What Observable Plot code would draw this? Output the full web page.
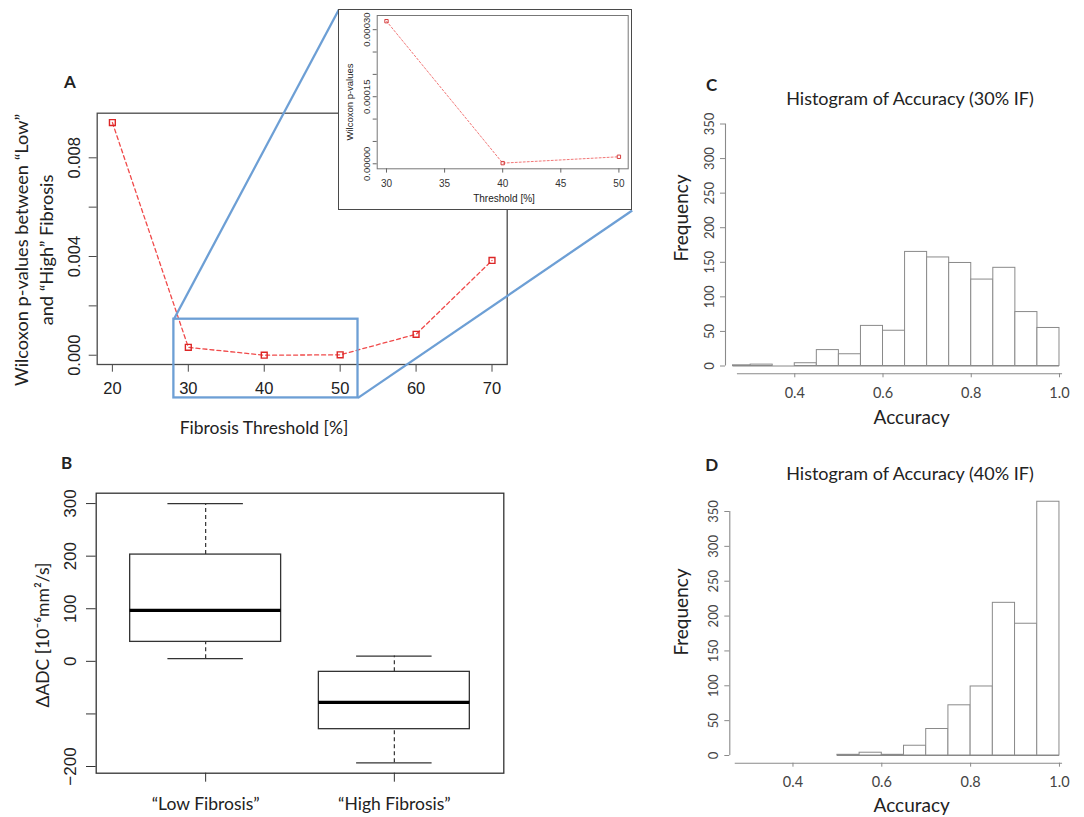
<!DOCTYPE html>
<html><head><meta charset="utf-8">
<script src="https://cdn.jsdelivr.net/npm/d3@7"></script>
<script src="https://cdn.jsdelivr.net/npm/@observablehq/plot@0.6"></script>
<style>
body{margin:0;background:#fff;}
#root{position:relative;width:1084px;height:817px;overflow:hidden;background:#fff;font-family:Lato,sans-serif;}
.lbl{position:absolute;white-space:pre;text-align:center;color:#222;}
</style></head><body><div id="root"></div>
<script>
// ---------- Panel A: Wilcoxon p-values vs fibrosis threshold ----------
const thresholds = [20, 30, 40, 50, 60, 70];
const pValues = [0.00943, 0.00032, 0.0000015, 0.000016, 0.00085, 0.00384];
const thresholdTicks = [20, 30, 40, 50, 60, 70];
const pTicks = [0, 0.002, 0.004, 0.006, 0.008];
const pTickLabels = ["0.000", "", "0.004", "", "0.008"];
const zoomWindowX = [28.1, 52.35];
const zoomWindowY = [-0.00173, 0.00146];

// ---------- Inset: zoom on 30–50 % ----------
const insetThresholds = [30, 40, 50];
const insetPValues = [0.000319, 0.0000015, 0.0000157];
const insetXTicks = [30, 35, 40, 45, 50];
const insetYTicks = [0, 0.00005, 0.0001, 0.00015, 0.0002, 0.00025, 0.0003];
const insetYLabels = ["0.00000", "", "", "0.00015", "", "", "0.00030"];

// ---------- Panel B: ΔADC boxplots ----------
const groups = ["\u201CLow Fibrosis\u201D", "\u201CHigh Fibrosis\u201D"];
const whiskerLow = [5, -193];
const quartile1 = [37, -129];
const medians = [97, -78];
const quartile3 = [203, -20];
const whiskerHigh = [300, 10];
const adcTicks = [-200, -100, 0, 100, 200, 300];
const adcTickLabels = ["\u2212200", "", "0", "100", "200", "300"];

// ---------- Panels C, D: accuracy histograms ----------
const binWidth = 0.05;
const binStarts30 = [0.25, 0.30, 0.35, 0.40, 0.45, 0.50, 0.55, 0.60, 0.65, 0.70, 0.75, 0.80, 0.85, 0.90, 0.95];
const freq30 = [1, 2, 0, 4, 23, 17, 58, 51, 165, 157, 149, 125, 142, 78, 55];
const binStarts40 = [0.50, 0.55, 0.60, 0.65, 0.70, 0.75, 0.80, 0.85, 0.90, 0.95];
const freq40 = [1, 4, 1, 14, 38, 72, 99, 219, 189, 364];
const accuracyTicks = [0.4, 0.6, 0.8, 1.0];
const freqTicks = [0, 50, 100, 150, 200, 250, 300, 350];
const accuracyDomain = [0.26, 1.01];
const accuracyAxisSpan = [0.27, 1.007];

// ======================================================================
const root = document.getElementById("root");
const SANS = "'Liberation Sans', Arial, sans-serif";
const HUM = "Lato, sans-serif";

function place(el, left, top, z = 1) {
  el.style.position = "absolute";
  el.style.left = left + "px";
  el.style.top = top + "px";
  el.style.zIndex = z;
  root.appendChild(el);
  return el;
}
function label(text, cx, cy, o = {}) {
  const d = document.createElement("div");
  d.className = "lbl";
  d.textContent = text;
  d.style.left = cx + "px";
  d.style.top = cy + "px";
  d.style.fontSize = (o.size || 17) + "px";
  d.style.fontFamily = o.family || HUM;
  d.style.fontWeight = o.weight || "normal";
  d.style.color = o.color || "#222";
  d.style.lineHeight = (o.lh || 1.2 * (o.size || 17)) + "px";
  d.style.zIndex = 5;
  d.style.transform = `translate(-50%,-50%) rotate(${o.rotate || 0}deg)`;
  root.appendChild(d);
  return d;
}
const padDomain = (vals, f = 0.04) => {
  const lo = d3.min(vals), hi = d3.max(vals), e = (hi - lo) * f;
  return [lo - e, hi + e];
};
const lookup = (ticks, labels) => d => labels[ticks.indexOf(d)] ?? "";

// ---------------- Panel A ----------------
const A = {w: 640, h: 440, mL: 96.7, mT: 112.7, mR: 133.3, mB: 76};
const aXDomain = padDomain(thresholds);
const aYDomain = padDomain(pValues);
const sx = Plot.scale({x: {domain: aXDomain, range: [A.mL, A.w - A.mR]}});
const sy = Plot.scale({y: {domain: aYDomain, range: [A.h - A.mB, A.mT]}});
const INSET = {left: 338, top: 9, w: 294, h: 201};
const links = [
  {x1: zoomWindowX[0], y1: zoomWindowY[1], x2: sx.invert(INSET.left + 0.3), y2: sy.invert(INSET.top + 0.3)},
  {x1: zoomWindowX[1], y1: zoomWindowY[0], x2: sx.invert(INSET.left + INSET.w - 0.3), y2: sy.invert(INSET.top + INSET.h)}
];
const aData = thresholds.map((t, i) => ({t, p: pValues[i]}));
const BLUE = "#6d9fd5";
const plotA = Plot.plot({
  width: A.w, height: A.h,
  marginLeft: A.mL, marginTop: A.mT, marginRight: A.mR, marginBottom: A.mB,
  x: {domain: aXDomain}, y: {domain: aYDomain},
  style: {fontFamily: SANS, fontSize: "16px", background: "transparent", overflow: "visible"},
  marks: [
    Plot.frame({stroke: "#4a4a4a", strokeWidth: 1.3}),
    Plot.axisX({ticks: thresholdTicks, tickSize: 7.7, tickPadding: 10, label: null, stroke: "#4a4a4a", fill: "#222", fontSize: 16.5}),
    Plot.axisY({ticks: pTicks, tickFormat: lookup(pTicks, pTickLabels), tickSize: 8, tickRotate: -90, tickPadding: 9, label: null, stroke: "#4a4a4a", fill: "#222", fontSize: 16.5}),
    Plot.line(aData, {x: "t", y: "p", stroke: "#f04a4a", strokeWidth: 1.3, strokeDasharray: "4,3"}),
    Plot.dot(aData, {x: "t", y: "p", symbol: "square", r: 3.3, stroke: "#dc2626", strokeWidth: 1.4, fill: "none"}),
    Plot.rect([{x1: zoomWindowX[0], x2: zoomWindowX[1], y1: zoomWindowY[0], y2: zoomWindowY[1]}],
      {x1: "x1", x2: "x2", y1: "y1", y2: "y2", fill: "none", stroke: BLUE, strokeWidth: 2.3}),
    Plot.link(links, {x1: "x1", y1: "y1", x2: "x2", y2: "y2", stroke: BLUE, strokeWidth: 2.3})
  ]
});
place(plotA, 0, 0, 1);

// ---------------- Inset ----------------
const iData = insetThresholds.map((t, i) => ({t, p: insetPValues[i]}));
const plotInset = Plot.plot({
  width: INSET.w, height: INSET.h,
  marginLeft: 38.7, marginTop: 6, marginRight: 4.3, marginBottom: 41.7,
  x: {domain: padDomain(insetThresholds)}, y: {domain: padDomain(insetPValues)},
  style: {fontFamily: SANS, fontSize: "10px", background: "#fff", outline: "1.5px solid #4a4a4a", outlineOffset: "-1.5px"},
  marks: [
    Plot.frame({stroke: "#777", strokeWidth: 1}),
    Plot.axisX({ticks: insetXTicks, tickSize: 4.3, tickPadding: 7, label: null, stroke: "#666", fill: "#333", fontSize: 10}),
    Plot.axisY({ticks: insetYTicks, tickFormat: lookup(insetYTicks, insetYLabels), tickSize: 4, tickRotate: -90, tickPadding: 3, label: null, stroke: "#666", fill: "#333", fontSize: 9.5}),
    Plot.line(iData, {x: "t", y: "p", stroke: "#f27777", strokeWidth: 1, strokeDasharray: "2,2"}),
    Plot.dot(iData, {x: "t", y: "p", symbol: "square", r: 1.9, stroke: "#d64040", strokeWidth: 1, fill: "none"})
  ]
});
place(plotInset, INSET.left, INSET.top, 3);

// ---------------- Panel B ----------------
const boxData = groups.map((g, i) => ({
  g, pos: i + 1, lo: whiskerLow[i], q1: quartile1[i], med: medians[i], q3: quartile3[i], hi: whiskerHigh[i]
}));
const bYDomain = padDomain([...whiskerLow, ...whiskerHigh]);
const bXDomain = padDomain([0.5, groups.length + 0.5]);
const plotB = Plot.plot({
  width: 520, height: 377,
  marginLeft: 95.7, marginTop: 52.7, marginRight: 16.7, marginBottom: 44.3,
  x: {domain: bXDomain}, y: {domain: bYDomain},
  style: {fontFamily: SANS, fontSize: "17px", background: "transparent"},
  marks: [
    Plot.ruleX(boxData, {x: "pos", y1: "q3", y2: "hi", stroke: "#333", strokeWidth: 1.2, strokeDasharray: "4,3"}),
    Plot.ruleX(boxData, {x: "pos", y1: "lo", y2: "q1", stroke: "#333", strokeWidth: 1.2, strokeDasharray: "4,3"}),
    Plot.ruleY(boxData, {y: "hi", x1: d => d.pos - 0.2, x2: d => d.pos + 0.2, stroke: "#333", strokeWidth: 1.3}),
    Plot.ruleY(boxData, {y: "lo", x1: d => d.pos - 0.2, x2: d => d.pos + 0.2, stroke: "#333", strokeWidth: 1.3}),
    Plot.rect(boxData, {x1: d => d.pos - 0.4, x2: d => d.pos + 0.4, y1: "q1", y2: "q3", fill: "#fff", stroke: "#333", strokeWidth: 1.3}),
    Plot.ruleY(boxData, {y: "med", x1: d => d.pos - 0.4, x2: d => d.pos + 0.4, stroke: "#000", strokeWidth: 3.2}),
    Plot.frame({stroke: "#333", strokeWidth: 1.3}),
    Plot.axisY({ticks: adcTicks, tickFormat: lookup(adcTicks, adcTickLabels), tickSize: 9.7, tickRotate: -90, tickPadding: 11, label: null, stroke: "#333", fill: "#222", fontSize: 17}),
    Plot.axisX({ticks: boxData.map(d => d.pos), tickFormat: d => groups[d - 1], tickSize: 9, tickPadding: 15, label: null, stroke: "#333", fill: "#222", fontSize: 17.5, fontFamily: HUM})
  ]
});
place(plotB, 0, 440, 1);

// ---------------- Panels C & D ----------------
function histogram(binStarts, freqs, g) {
  const data = binStarts.map((s, i) => ({x1: s, x2: s + binWidth, y: freqs[i]}));
  return Plot.plot({
    width: 424, height: g.h,
    marginLeft: g.mL, marginRight: g.mR, marginTop: g.mT, marginBottom: g.mB,
    x: {domain: accuracyDomain}, y: {domain: [0, 350]},
    style: {fontFamily: HUM, fontSize: "14px", background: "transparent", overflow: "visible"},
    marks: [
      Plot.ruleY([0], {x1: Math.max(binStarts[0], accuracyDomain[0]), x2: binStarts[binStarts.length - 1] + binWidth, stroke: "#888", strokeWidth: 1}),
      Plot.rect(data, {
        x1: d => Math.max(d.x1, accuracyDomain[0]), x2: "x2", y1: 0, y2: "y",
        fill: "#fff", stroke: "#8a8a8a", strokeWidth: 1
      }),
      Plot.ruleX([accuracyDomain[0]], {y1: 0, y2: 350, dx: g.yAxisDx, stroke: "#8a8a8a", strokeWidth: 1.1}),
      Plot.axisY({ticks: freqTicks, tickSize: 5, tickRotate: -90, tickPadding: 7, dx: g.yAxisDx, label: null, stroke: "#8a8a8a", fill: "#444", fontSize: 13}),
      Plot.ruleY([0], {x1: accuracyAxisSpan[0], x2: accuracyAxisSpan[1], dy: g.xAxisDy, stroke: "#8a8a8a", strokeWidth: 1.1}),
      Plot.axisX({ticks: accuracyTicks, tickFormat: d3.format(".1f"), tickSize: 4, tickPadding: 10, dy: g.xAxisDy, label: null, stroke: "#8a8a8a", fill: "#444", fontSize: 14.5})
    ]
  });
}
const plotC = histogram(binStarts30, freq30, {h: 330, mL: 72.5, mR: 20.6, mT: 23.5, mB: 64.5, yAxisDx: -7.5, xAxisDy: 7.8});
place(plotC, 660, 100, 1);
const plotD = histogram(binStarts40, freq40, {h: 332, mL: 70.3, mR: 20.6, mT: 26, mB: 62, yAxisDx: -1, xAxisDy: 7.7});
place(plotD, 660, 485, 1);

// ---------------- Text labels ----------------
label("A", 70, 81.7, {size: 17, weight: "bold"});
label("Wilcoxon p-values between \u201CLow\u201D\nand \u201CHigh\u201D Fibrosis", 34, 250, {size: 18.2, rotate: -90, lh: 25});
label("Fibrosis Threshold [%]", 264, 426.7, {size: 17.5});
label("Threshold [%]", 504, 199, {size: 10, family: SANS, color: "#222"});
label("Wilcoxon p-values", 350, 101.7, {size: 9.5, family: SANS, color: "#222", rotate: -90});
label("B", 66.7, 463.3, {size: 17, weight: "bold"});
label("\u0394ADC [10\u207B\u2076mm\u00B2/s]", 41.7, 635, {size: 17.5, rotate: -90});
label("C", 711.7, 85, {size: 17, weight: "bold"});
label("Histogram of Accuracy (30% IF)", 910, 99.3, {size: 18});
label("Frequency", 680.7, 218, {size: 19, rotate: -90});
label("Accuracy", 911.7, 416.7, {size: 19});
label("D", 711.7, 465, {size: 17, weight: "bold"});
label("Histogram of Accuracy (40% IF)", 910, 474, {size: 18});
label("Frequency", 680.7, 611.7, {size: 19, rotate: -90});
label("Accuracy", 911.7, 805, {size: 19});
</script></body></html>
